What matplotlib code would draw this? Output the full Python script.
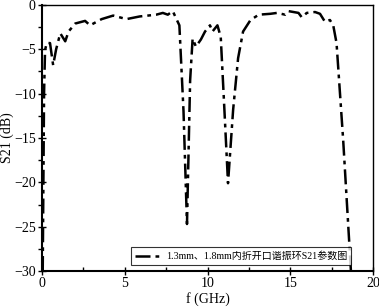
import matplotlib
matplotlib.use("Agg")
import matplotlib.pyplot as plt
from matplotlib.ticker import MultipleLocator

# 频率 (GHz) 与 S21 (dB)
freq = [0.04, 0.12, 0.18, 0.28, 0.48, 0.67, 0.85, 1.1, 1.4, 1.6, 2.0, 2.6, 2.9,
        3.6, 4.3, 4.9, 5.1, 5.9, 6.9, 7.3, 7.6, 7.9, 8.3, 8.55, 8.76, 8.95,
        9.1, 9.3, 9.6, 9.85, 10.15, 10.3, 10.6, 10.8, 11.0, 11.24, 11.55,
        11.85, 12.15, 12.6, 13.1, 13.8, 14.2, 14.7, 14.9, 15.5, 15.7, 16.0,
        16.5, 16.8, 17.1, 17.4, 17.6, 17.8, 18.2, 18.67]
s21 = [-30, -10, -5.1, -4.3, -4.3, -6.8, -5.0, -3.2, -4.1, -3.0, -2.1, -1.8, -2.3,
       -1.6, -1.2, -1.5, -1.6, -1.3, -1.1, -0.9, -1.1, -0.7, -2.3, -12.0, -24.7, -8.5,
       -3.8, -4.7, -3.9, -3.0, -2.3, -3.0, -2.3, -3.6, -11.0, -20.1, -11.8,
       -6.0, -3.0, -1.7, -1.1, -1.0, -0.9, -1.1, -0.7, -0.9, -1.4, -0.9,
       -0.8, -1.0, -1.9, -1.7, -2.3, -4.3, -15.2, -30]
legend_label = "1.3mm、1.8mm内折开口谐振环S21参数图"

plt.rcParams['font.family'] = ['Liberation Serif', 'Noto Sans CJK SC']

fig = plt.figure(figsize=(3.79, 3.08), dpi=100)
ax = fig.add_axes([0.111, 0.120, 0.873, 0.864])

ax.plot(freq, s21, color='black', linewidth=1.8,
        linestyle=(0, (6, 2, 1.5, 2)), label=legend_label)

ax.set_xlim(0, 20)
ax.set_ylim(-30, 0)
ax.xaxis.set_major_locator(MultipleLocator(5))
ax.xaxis.set_minor_locator(MultipleLocator(2.5))
ax.yaxis.set_major_locator(MultipleLocator(5))
ax.yaxis.set_minor_locator(MultipleLocator(2.5))
ax.tick_params(which='major', direction='inout', length=6, width=1, labelsize=10, pad=1.5)
ax.tick_params(which='minor', direction='in', length=3, width=1)
ax.tick_params(axis='y', which='minor', direction='out')
for s in ['bottom', 'left']:
    ax.spines[s].set_linewidth(1.5)
for s in ['top', 'right']:
    ax.spines[s].set_linewidth(1.0)

ax.set_xlabel("f (GHz)", fontsize=10, labelpad=1)
ax.set_ylabel("S21 (dB)", fontsize=10, labelpad=0)

leg = ax.legend(loc='lower right', bbox_to_anchor=(0.94, 0.015), fontsize=7.2,
                frameon=True, fancybox=False, edgecolor='black', handlelength=2.8,
                borderpad=0.4, handletextpad=0.3, borderaxespad=0.2)
leg.get_frame().set_linewidth(0.8)

fig.savefig("out.png", dpi=100)
